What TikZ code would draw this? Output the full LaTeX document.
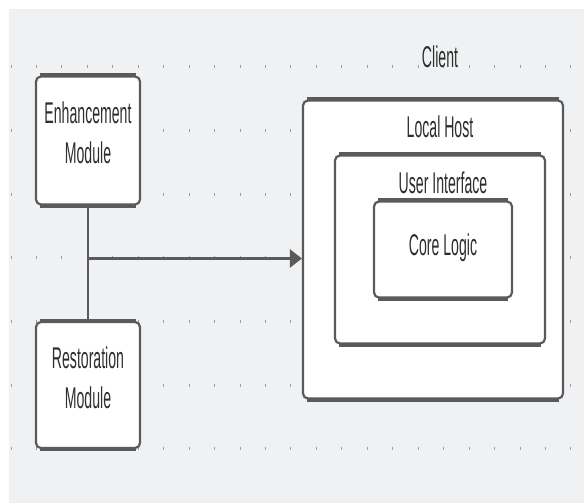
\documentclass[tikz,border=0pt]{standalone}
\usepackage{fontspec}
\setmainfont{Liberation Sans}[FakeStretch=0.47]
\usetikzlibrary{arrows.meta,calc}
\definecolor{canvas}{HTML}{F0F1F3}
\definecolor{griddot}{HTML}{9C9EA2}
\definecolor{stroke}{HTML}{5A5A5A}
\definecolor{ink}{HTML}{2E2E2E}
\tikzset{
  hedge/.style={draw=stroke, line width=4pt, line cap=butt},
  box/.style={draw=stroke, fill=white, line width=2.2pt, rounded corners=5pt,
    inner sep=0pt,
    append after command={
      ([xshift=5pt]\tikzlastnode.north west) edge[hedge] ([xshift=-5pt]\tikzlastnode.north east)
      ([xshift=5pt]\tikzlastnode.south west) edge[hedge] ([xshift=-5pt]\tikzlastnode.south east)}},
  label/.style={text=ink, inner sep=0pt, align=center, font=\fontsize{30}{40}\selectfont},
  link/.style={draw=stroke, line width=1.8pt},
  flow/.style={draw=stroke, line width=2.6pt, -{Triangle[length=12pt,width=18pt]}}
}
\begin{document}
\begin{tikzpicture}[x=1pt,y=-1pt]
\useasboundingbox (0,0) rectangle (584,503);
% canvas and dot grid
\fill[canvas] (8.5,9.5) rectangle (584,503);
\foreach \j in {0,...,6}{
  \foreach \k in {0,...,22}{
    \fill[griddot] ({11+25.45*\k-0.5},{67+63.65*\j-1.5}) rectangle ++(1,3);
  }
}
% module boxes
\node[box, minimum width=104pt, minimum height=128pt] (enh) at (88,140.5) {};
\node[box, minimum width=104pt, minimum height=126pt] (res) at (88,385) {};
\node[label, anchor=north] (enhtxt) at (88,102) {Enhancement\\Module};
\node[label, anchor=north] (restxt) at (88,347) {Restoration\\Module};
% client stack
\node[label, anchor=base] (client) at (440,67) {Client};
\node[box, minimum width=260pt, minimum height=298pt] (lh) at (433,249.5) {};
\node[label, anchor=base] (lhtxt) at (440,137) {Local Host};
\node[box, minimum width=210pt, minimum height=188pt] (ui) at (440,249.5) {};
\node[label, anchor=base] (uitxt) at (443,193) {User Interface};
\node[box, minimum width=138pt, minimum height=96pt] (core) at (443,249.5) {};
\node[label, anchor=base] (coretxt) at (443,255) {Core Logic};
% connectors
\coordinate (join) at (88,258.5);
\draw[link] (enh.south) -- (res.north);
\draw[flow] (join) -- (join -| lh.west);
\end{tikzpicture}
\end{document}
